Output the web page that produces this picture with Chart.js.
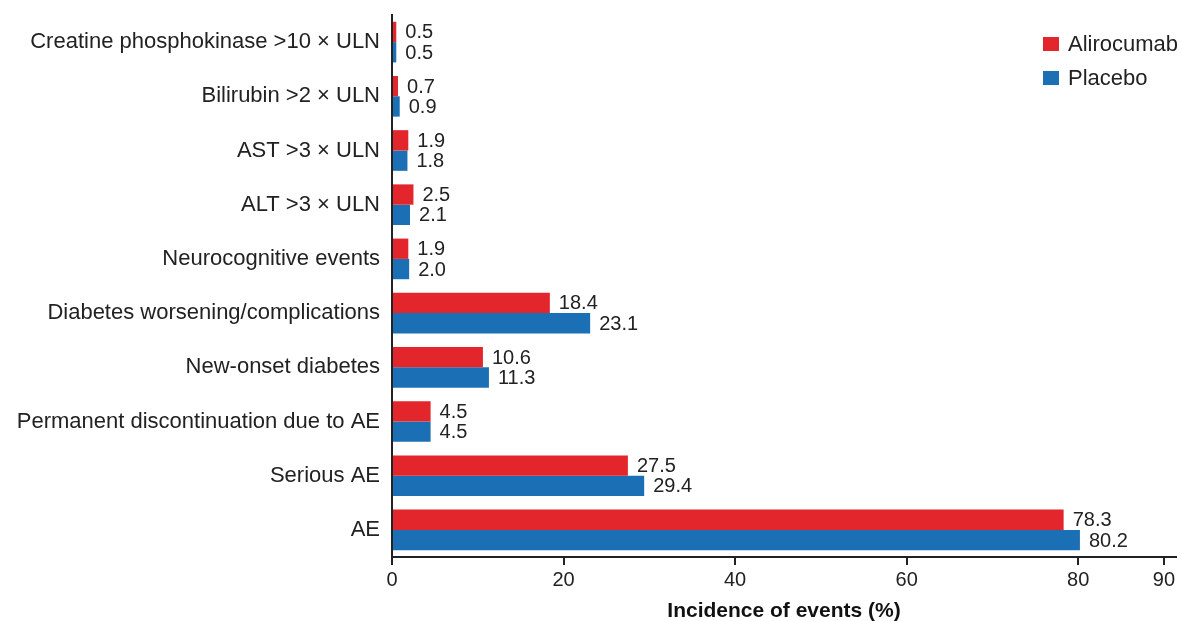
<!DOCTYPE html>
<html lang="en">
<head>
    <meta charset="UTF-8">
    <title>Incidence of events</title>
    <script src="https://cdn.jsdelivr.net/npm/chart.js"></script>
    <style>
        html, body { margin: 0; padding: 0; background: #fff; }
        .container { width: 1182px; height: 621px; position: relative; }
    </style>
</head>
<body>
<div class="container">
    <canvas id="eventsChart"></canvas>
</div>

<script>
    const categories = [
        'Creatine phosphokinase >10 \u00d7 ULN',
        'Bilirubin >2 \u00d7 ULN',
        'AST >3 \u00d7 ULN',
        'ALT >3 \u00d7 ULN',
        'Neurocognitive events',
        'Diabetes worsening/complications',
        'New-onset diabetes',
        'Permanent discontinuation due to AE',
        'Serious AE',
        'AE'
    ];
    const alirocumab = [0.5, 0.7, 1.9, 2.5, 1.9, 18.4, 10.6, 4.5, 27.5, 78.3];
    const placebo = [0.5, 0.9, 1.8, 2.1, 2.0, 23.1, 11.3, 4.5, 29.4, 80.2];
    const xTicks = [0, 20, 40, 60, 80, 90];

    const FONT = "'Liberation Sans', Arial, sans-serif";

    // value labels at the end of each bar
    const valueLabels = {
        id: 'valueLabels',
        afterDatasetsDraw(chart) {
            const ctx = chart.ctx;
            ctx.save();
            ctx.font = '20px ' + FONT;
            ctx.fillStyle = '#222';
            ctx.textBaseline = 'middle';
            ctx.textAlign = 'left';
            chart.data.datasets.forEach((ds, i) => {
                chart.getDatasetMeta(i).data.forEach((bar, j) => {
                    ctx.fillText(ds.data[j].toFixed(1), bar.x + 9, bar.y + 1);
                });
            });
            ctx.restore();
        }
    };

    // legend stacked in the top right corner
    const cornerLegend = {
        id: 'cornerLegend',
        afterDraw(chart) {
            const ctx = chart.ctx;
            ctx.save();
            ctx.font = '22px ' + FONT;
            ctx.textBaseline = 'middle';
            chart.data.datasets.forEach((ds, i) => {
                const y = 44 + i * 34;
                ctx.fillStyle = ds.backgroundColor;
                ctx.fillRect(1043, y - 7, 16, 14);
                ctx.fillStyle = '#222';
                ctx.fillText(ds.label, 1068, y + 1);
            });
            ctx.restore();
        }
    };

    const ctx = document.getElementById('eventsChart').getContext('2d');
    new Chart(ctx, {
        type: 'bar',
        data: {
            labels: categories,
            datasets: [{
                label: 'Alirocumab',
                data: alirocumab,
                backgroundColor: '#e2262b',
                categoryPercentage: 0.75,
                barPercentage: 1.0
            }, {
                label: 'Placebo',
                data: placebo,
                backgroundColor: '#1b70b5',
                categoryPercentage: 0.75,
                barPercentage: 1.0
            }]
        },
        options: {
            indexAxis: 'y',
            responsive: true,
            maintainAspectRatio: false,
            animation: false,
            layout: { padding: { top: 15, right: 6, left: 0, bottom: 0 } },
            plugins: {
                legend: { display: false },
                tooltip: { enabled: false }
            },
            scales: {
                x: {
                    min: 0,
                    max: 91.4,
                    afterBuildTicks: (scale) => {
                        scale.ticks = xTicks.map(v => ({ value: v }));
                    },
                    afterFit: (scale) => { scale.height = 64; },
                    grid: {
                        drawOnChartArea: false,
                        drawTicks: true,
                        tickLength: 8,
                        color: '#222',
                        lineWidth: 2
                    },
                    border: { display: true, color: '#222', width: 2 },
                    ticks: {
                        color: '#222',
                        font: { family: FONT, size: 20 },
                        padding: 3,
                        maxRotation: 0,
                        autoSkip: false
                    },
                    title: {
                        display: true,
                        text: 'Incidence of events (%)',
                        color: '#111',
                        font: { family: FONT, size: 21, weight: 'bold' },
                        padding: { top: 6, bottom: -3 }
                    }
                },
                y: {
                    afterFit: (scale) => {
                        scale.width = 392;
                        scale.paddingTop = 0;
                        scale.paddingBottom = 0;
                    },
                    grid: { display: false, drawTicks: false },
                    border: { display: true, color: '#222', width: 2 },
                    ticks: {
                        color: '#222',
                        font: { family: FONT, size: 22 },
                        padding: 12,
                        autoSkip: false
                    }
                }
            }
        },
        plugins: [valueLabels, cornerLegend]
    });
</script>
</body>
</html>
